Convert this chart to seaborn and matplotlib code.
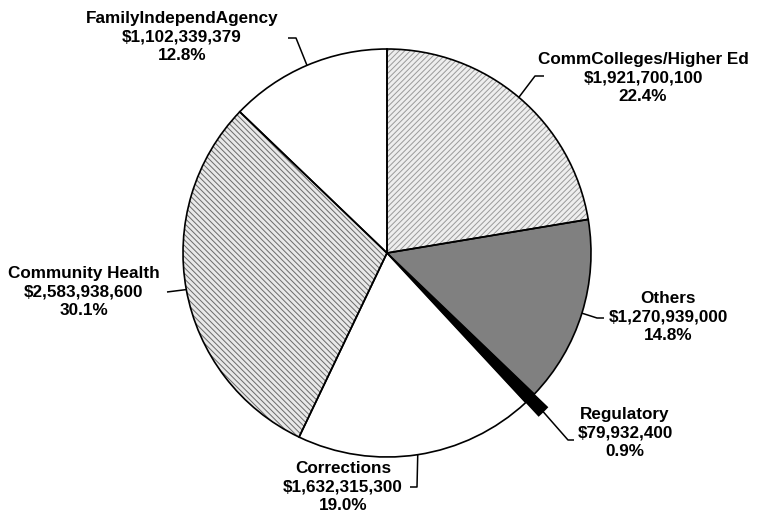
import numpy as np
import matplotlib
matplotlib.use("Agg")
import matplotlib.pyplot as plt
import seaborn as sns

sns.set_theme(style="white")
plt.rcParams['font.family'] = ['Liberation Sans', 'DejaVu Sans']
plt.rcParams['hatch.linewidth'] = 0.7

# ---- data (clockwise from 12 o'clock) ----
categories = ["CommColleges/Higher Ed", "Others", "Regulatory",
              "Corrections", "Community Health", "FamilyIndependAgency"]
values = [1921700100, 1270939000, 79932400, 1632315300, 2583938600, 1102339379]

# ---- styles ----
face_colors = ["#eeeeee", "#808080", "#000000", "#ffffff", "#e8e8e8", "#ffffff"]
hatches = ["//////", None, None, None, "\\\\\\\\\\\\", None]
hatch_colors = ["#9a9a9a", "#808080", "#000000", "#ffffff", "#6a6a6a", "#ffffff"]
explode = [0, 0, 0.09, 0, 0, 0]

W, H = 767, 520
CX, CY, R = 387, 253, 204  # pie centre / radius in pixels

fig = plt.figure(figsize=(W / 100, H / 100), dpi=100)
ax = fig.add_axes([0, 0, 1, 1])

def px(x, y):
    return ((x - CX) / R, (CY - y) / R)

# fill + hatch layer
wedges, _ = ax.pie(values, startangle=90, counterclock=False, explode=explode,
                   colors=face_colors, radius=1,
                   wedgeprops=dict(linewidth=0))
for w, h, hc in zip(wedges, hatches, hatch_colors):
    w.set_edgecolor(hc)
    if h:
        w.set_hatch(h)
# outline layer
ax.pie(values, startangle=90, counterclock=False, explode=explode, radius=1,
       wedgeprops=dict(facecolor="none", edgecolor="black", linewidth=1.2))

ax.set_xlim(-CX / R, (W - CX) / R)
ax.set_ylim((CY - H) / R, CY / R)
ax.set_aspect("equal", adjustable="box")
ax.axis("off")

total = float(sum(values))

# label layout (pixel positions of label block centre, alignment, leader elbow/end)
label_pos = {
    "CommColleges/Higher Ed": dict(xy=(643, 78), ha="center", elbow=(535, 76), end=(544, 76)),
    "Others": dict(xy=(668, 317), ha="center", elbow=(597, 318), end=(604, 318)),
    "Regulatory": dict(xy=(625, 433), ha="center", elbow=(568, 440), end=(574, 440)),
    "Corrections": dict(xy=(343, 487), ha="center", elbow=(417, 487), end=(410, 487)),
    "Community Health": dict(xy=(84, 292), ha="center", elbow=(167, 292), end=(167, 292)),
    "FamilyIndependAgency": dict(xy=(182, 37), ha="center", elbow=(296, 38), end=(288, 38)),
}

for w, cat, val, ex in zip(wedges, categories, values, explode):
    theta = np.deg2rad((w.theta1 + w.theta2) / 2)
    r = 1 + ex
    ax_x, ax_y = r * np.cos(theta), r * np.sin(theta)
    lp = label_pos[cat]
    ex_, ey_ = px(*lp["elbow"])
    en_x, en_y = px(*lp["end"])
    ax.plot([ax_x, ex_, en_x], [ax_y, ey_, en_y], color="black", lw=1.1,
            solid_capstyle="butt", zorder=5)
    tx, ty = px(*lp["xy"])
    txt = f"{cat}\n${val:,.0f}\n{val / total * 100:.1f}%"
    ax.text(tx, ty, txt, ha=lp["ha"], va="center", multialignment=lp["ha"],
            fontsize=12.3, fontweight="bold", linespacing=1.28, color="black")

fig.savefig("out.png", dpi=100, facecolor="white")
